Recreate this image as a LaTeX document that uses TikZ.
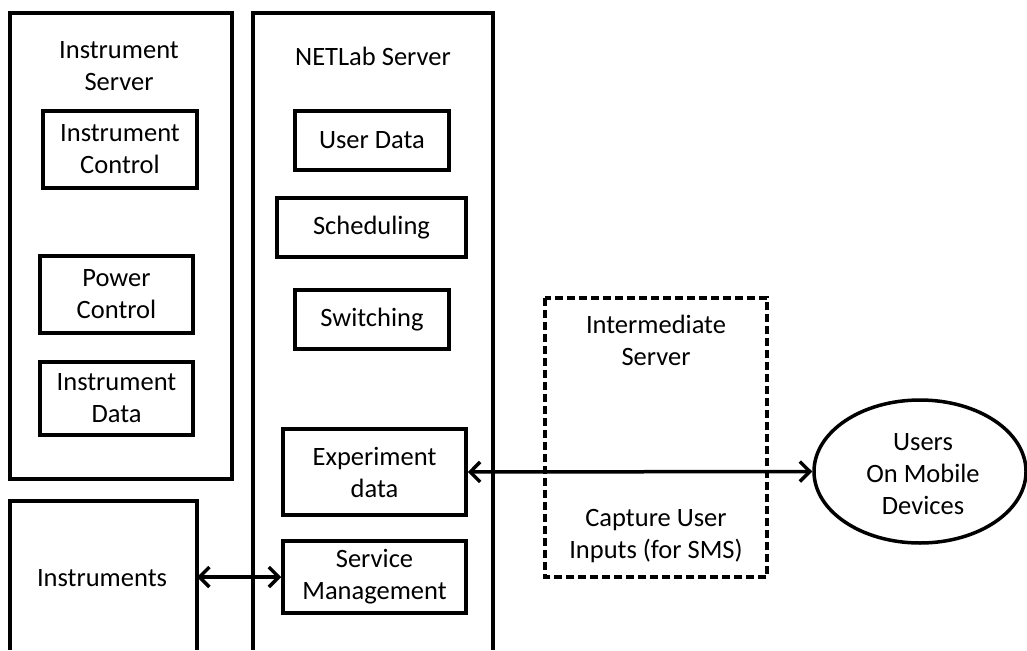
\documentclass[tikz,border=0pt]{standalone}
\usepackage{fontspec}
\setmainfont{Carlito}
\usetikzlibrary{arrows.meta,shapes.geometric}

\tikzset{
  frame/.style    = {line width=3.5pt},
  module/.style   = {draw, line width=3.5pt, align=center, inner sep=0pt},
  label/.style    = {align=center, inner sep=0pt},
  link/.style     = {line width=3.5pt, {Straight Barb[length=10pt,width=20pt]}-{Straight Barb[length=10pt,width=20pt]}},
}

\begin{document}
\begin{tikzpicture}[x=1pt, y=-1pt, font=\fontsize{26.5}{32}\selectfont]

  \useasboundingbox (0,0) rectangle (1027,650);

  % Instrument Server
  \draw[frame] (10,13) rectangle (232,479);
  \node[label] (isrv) at (119,66) {Instrument\\Server};
  \node[module, minimum width=154pt, minimum height=77pt] (ictl)  at (120,149.5)  {Instrument\\Control};
  \node[module, minimum width=153pt, minimum height=77pt] (pctl)  at (116.5,294.5) {Power\\Control};
  \node[module, minimum width=153pt, minimum height=73pt] (idata) at (116.5,398.5) {Instrument\\Data};

  % Instruments (open at the bottom)
  \draw[frame] (10,650) -- (10,501) -- (197,501) -- (197,650);
  \node[label] (instr) at (102,578) {Instruments};
  \coordinate (instr edge) at (197,577);

  % NETLab Server (open at the bottom)
  \draw[frame] (253,650) -- (253,13) -- (493,13) -- (493,650);
  \node[label] (nsrv) at (373,56) {NETLab Server};
  \node[module, minimum width=154pt, minimum height=59pt] (udata) at (372,140.5)   {User Data};
  \node[module, minimum width=189pt, minimum height=59pt] (sched) at (371.5,227.5) {Scheduling};
  \node[module, minimum width=154pt, minimum height=59pt] (swit)  at (372,319.5)   {Switching};
  \node[module, minimum width=183pt, minimum height=86pt] (edata) at (374.5,472)   {Experiment\\data};
  \node[module, minimum width=183pt, minimum height=72pt] (smgmt) at (374.5,577)   {Service\\Management};

  % Intermediate Server
  \draw[line width=3.5pt, dash pattern=on 8pt off 4pt] (545,298) rectangle (767,577);
  \node[label] (msrv) at (656,340) {Intermediate\\Server};
  \node[label] (capt) at (656,536) {Capture User\\Inputs (for SMS)};

  % Users
  \node[ellipse, draw, line width=3.5pt, minimum width=212pt, minimum height=143pt,
        inner sep=0pt, align=center] (users) at (920,471.5) {};
  \node[label] (utxt) at (923,474) {Users\\On Mobile\\Devices};

  % links
  \draw[link] (instr edge) -- (smgmt.west);
  \draw[link] (edata.east) -- (users.west);

\end{tikzpicture}
\end{document}
